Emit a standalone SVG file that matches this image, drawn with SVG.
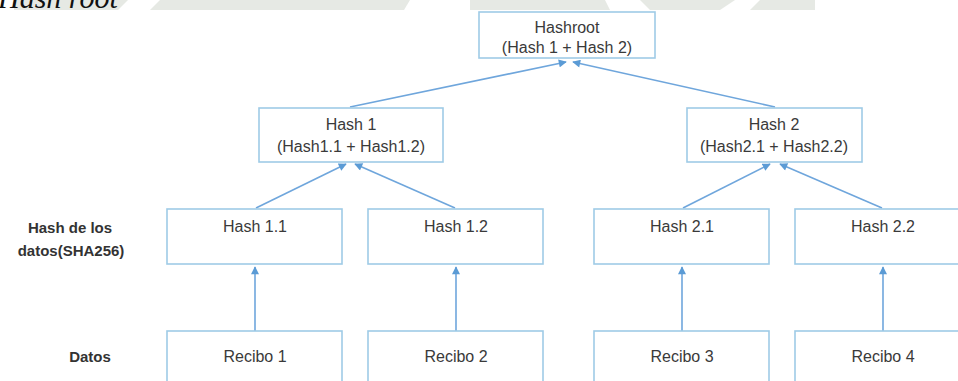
<svg xmlns="http://www.w3.org/2000/svg" width="958" height="381" viewBox="0 0 958 381">
  <style>
    .box { fill: #ffffff; stroke: #9fcbe6; stroke-width: 1.6; }
    .txt { font-family: "Liberation Sans", Arial, sans-serif; font-size: 16px; fill: #3a3a3a; text-anchor: middle; }
    .lbl { font-family: "Liberation Sans", Arial, sans-serif; font-size: 15px; font-weight: bold; fill: #333333; text-anchor: middle; }
    .edge { fill: none; stroke: #6fa6dc; stroke-width: 1.6; marker-end: url(#arrow); }
    .wm { fill: #e6e9e4; }
  </style>
  <defs>
    <marker id="arrow" viewBox="0 0 10 10" refX="9" refY="5" markerWidth="9" markerHeight="8" markerUnits="userSpaceOnUse" orient="auto">
      <path d="M0,0 L10,5 L0,10 z" fill="#5b9bd5"/>
    </marker>
  </defs>

  <!-- faint page background band along the top edge -->
  <g id="background">
    <polygon class="wm" points="14,0 128,0 118,10 14,10"/>
    <polygon class="wm" points="160,0 410,0 404,10 150,10"/>
    <polygon class="wm" points="470,0 605,0 610,10 470,10"/>
    <polygon class="wm" points="640,0 735,0 720,10 650,10"/>
    <polygon class="wm" points="760,0 815,0 815,10 750,10"/>
  </g>

  <!-- caption fragment at the top -->
  <text x="-2" y="8" font-family="Liberation Serif, 'Times New Roman', serif" font-style="italic" font-size="30" fill="#111111">Hash root</text>

  <!-- row labels -->
  <g id="labels">
    <text class="lbl" x="70" y="233">Hash de los</text>
    <text class="lbl" x="71" y="256">datos(SHA256)</text>
    <text class="lbl" x="90" y="362">Datos</text>
  </g>

  <!-- connectors -->
  <g id="connectors">
    <line class="edge" x1="350" y1="107" x2="566" y2="62"/>
    <line class="edge" x1="775" y1="107" x2="573" y2="62"/>
    <line class="edge" x1="256" y1="208" x2="346" y2="164"/>
    <line class="edge" x1="455" y1="208" x2="355" y2="164"/>
    <line class="edge" x1="683" y1="208" x2="770" y2="164"/>
    <line class="edge" x1="882" y1="208" x2="780" y2="164"/>
    <line class="edge" x1="255" y1="331" x2="255" y2="267"/>
    <line class="edge" x1="456" y1="331" x2="456" y2="267"/>
    <line class="edge" x1="682" y1="331" x2="682" y2="267"/>
    <line class="edge" x1="883" y1="331" x2="883" y2="267"/>
  </g>

  <g id="hashroot">
    <rect class="box" x="479" y="12" width="176" height="46"/>
    <text class="txt" x="567" y="33">Hashroot</text>
    <text class="txt" x="567" y="53">(Hash 1 + Hash 2)</text>
  </g>
  <g id="hash1">
    <rect class="box" x="259" y="108" width="184" height="54"/>
    <text class="txt" x="351" y="130">Hash 1</text>
    <text class="txt" x="351" y="152">(Hash1.1 + Hash1.2)</text>
  </g>
  <g id="hash2">
    <rect class="box" x="687" y="108" width="175" height="54"/>
    <text class="txt" x="774" y="130">Hash 2</text>
    <text class="txt" x="774" y="152">(Hash2.1 + Hash2.2)</text>
  </g>

  <g id="hash11">
    <rect class="box" x="167" y="209" width="175" height="55"/>
    <text class="txt" x="255" y="232">Hash 1.1</text>
  </g>
  <g id="hash12">
    <rect class="box" x="368" y="209" width="175" height="55"/>
    <text class="txt" x="456" y="232">Hash 1.2</text>
  </g>
  <g id="hash21">
    <rect class="box" x="594" y="209" width="175" height="55"/>
    <text class="txt" x="682" y="232">Hash 2.1</text>
  </g>
  <g id="hash22">
    <rect class="box" x="795" y="209" width="175" height="55"/>
    <text class="txt" x="883" y="232">Hash 2.2</text>
  </g>

  <g id="recibo1">
    <rect class="box" x="167" y="331" width="175" height="60"/>
    <text class="txt" x="255" y="362">Recibo 1</text>
  </g>
  <g id="recibo2">
    <rect class="box" x="368" y="331" width="175" height="60"/>
    <text class="txt" x="456" y="362">Recibo 2</text>
  </g>
  <g id="recibo3">
    <rect class="box" x="594" y="331" width="175" height="60"/>
    <text class="txt" x="682" y="362">Recibo 3</text>
  </g>
  <g id="recibo4">
    <rect class="box" x="795" y="331" width="175" height="60"/>
    <text class="txt" x="883" y="362">Recibo 4</text>
  </g>
</svg>
